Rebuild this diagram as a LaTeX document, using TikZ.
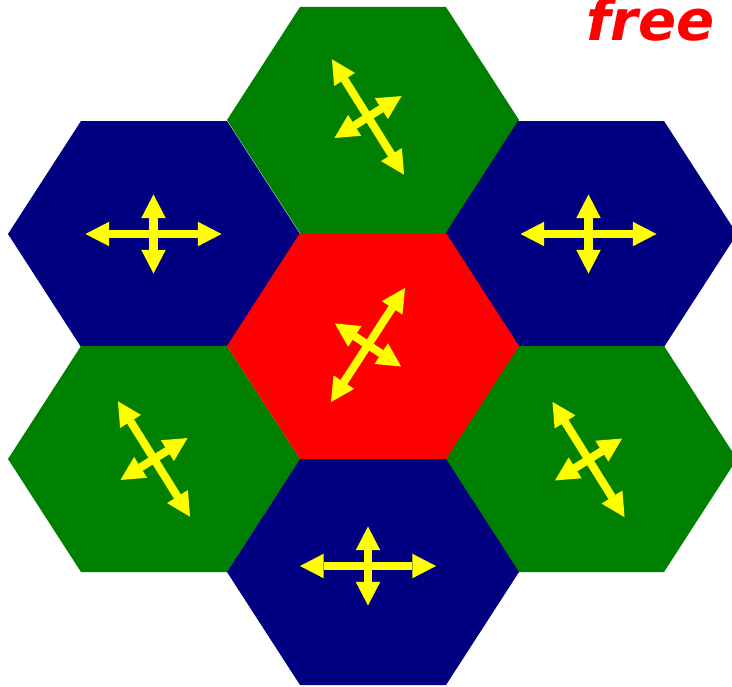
\documentclass[tikz,border=0pt]{standalone}
\usepackage{xcolor}
\usepackage{fontspec}
\usepackage{tikz}
\usetikzlibrary{arrows.meta}
\newfontfamily\freefont{DejaVu Sans}
\definecolor{cellblue}{RGB}{0,0,128}
\definecolor{cellgreen}{RGB}{0,128,0}
\definecolor{cellred}{RGB}{255,0,0}
\definecolor{moveyellow}{RGB}{255,255,0}

\begin{document}
\begin{tikzpicture}[
  x=0.02cm, y=-0.02cm,
  move/.style={{Triangle[length=13.5pt, width=14pt, line width=0pt]}-{Triangle[length=13.5pt, width=14pt, line width=0pt]}, line width=4.6pt, draw=moveyellow, fill=moveyellow},
  label/.style={anchor=base east, inner sep=0pt, text=cellred, font=\freefont\bfseries\itshape\fontsize{32}{32}\selectfont},
]
\clip (0,0) rectangle (732,686);

\foreach \cx/\cy/\col in {373/120/cellgreen, 154/234/cellblue, 591/234/cellblue, 154/459/cellgreen, 591/459/cellgreen, 373/572/cellblue, 373/346/cellred}
  \fill[\col] (\cx-146,\cy) -- (\cx-73,\cy-113) -- (\cx+73,\cy-113) -- (\cx+146,\cy) -- (\cx+73,\cy+113) -- (\cx-73,\cy+113) -- cycle;

\foreach \ax/\ay/\tilt in {153.5/234/0, 588.5/234/0, 368/566/0, 368/117/58, 154/459/58, 588.5/459.5/58, 368/345/-57}
{
  \draw[move] (\ax,\ay) ++(\tilt+180:68) -- ++(\tilt:136);
  \draw[move] (\ax,\ay) ++(\tilt-90:39.5) -- ++(\tilt+90:79);
}

\node[label] (freelabel) at (715,41) {free};
\end{tikzpicture}
\end{document}
